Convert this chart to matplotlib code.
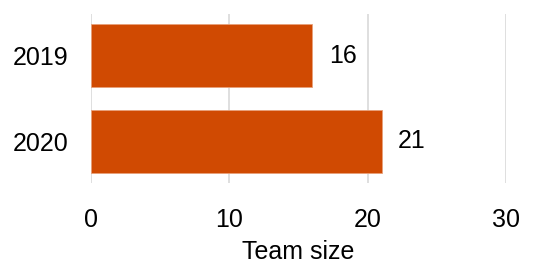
import matplotlib.pyplot as plt

years = ["2019", "2020"]
team_size = [16, 21]
ticks = [0, 10, 20, 30]

plt.rcParams['font.family'] = ['Liberation Sans', 'DejaVu Sans']

fig = plt.figure(figsize=(5.54, 2.65), dpi=100)
ax = fig.add_axes([0.1643, 0.3094, 0.7491, 0.6378])

pos = list(range(len(years)))
ax.barh(pos, team_size, height=0.73, color='#D04A02', edgecolor='#E8A07A', linewidth=0.6, zorder=2)

# value labels next to bars
for p, v in zip(pos, team_size):
    ax.annotate(str(v), (v, p), xytext=(12, 0), textcoords='offset points',
                va='center', ha='left', fontsize=18, color='black')

ax.set_xlim(0, 30)
ax.set_ylim(1.483, -0.483)
ax.set_yticks(pos)
ax.set_yticklabels(years)
ax.set_xticks(ticks)
ax.tick_params(axis='both', length=0, labelsize=18)
ax.tick_params(axis='x', pad=18)
ax.tick_params(axis='y', pad=16)
ax.grid(axis='x', color='#d9d9d9', linewidth=1.2, zorder=0)
ax.set_axisbelow(True)
for s in ax.spines.values():
    s.set_visible(False)

ax.set_xlabel("Team size", fontsize=18, labelpad=6)

fig.savefig("out.png", dpi=100)
